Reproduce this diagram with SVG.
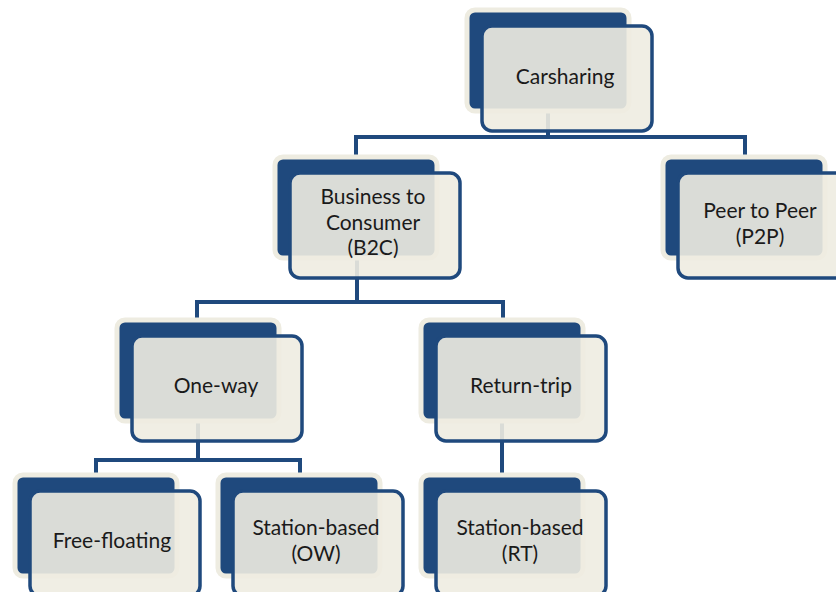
<svg xmlns="http://www.w3.org/2000/svg" width="836" height="592" viewBox="0 0 836 592">
  <style>
    .link { fill: none; stroke: #1f497d; stroke-width: 4; }
    .back { fill: #1f497d; stroke: #eeece1; stroke-width: 5; }
    .front { fill: #eeece1; fill-opacity: 0.9; stroke: #1f497d; stroke-width: 3.5; }
    .label { font-family: Lato, "Noto Sans", sans-serif; font-size: 21px; fill: #1a1a1a; text-anchor: middle; }
  </style>
  <defs>
    <g id="card">
      <rect class="back" x="0" y="0" width="162" height="101" rx="8"/>
      <rect class="front" x="15" y="16" width="170" height="105" rx="10"/>
    </g>
  </defs>

  <g id="connectors">
    <path class="link" d="M548 100 V137 M356 157 V137 H745 V157"/>
    <path class="link" d="M357 250 V302 M197 320 V302 H503 V320"/>
    <path class="link" d="M198 410 V460 M96 475 V460 H300 V475"/>
    <path class="link" d="M502 410 V475"/>
  </g>

  <g id="carsharing">
    <use href="#card" x="467" y="10"/>
    <text class="label" x="565" y="84">Carsharing</text>
  </g>

  <g id="b2c">
    <use href="#card" x="275" y="157"/>
    <text class="label" x="373" y="204">Business to</text>
    <text class="label" x="373" y="230">Consumer</text>
    <text class="label" x="373" y="255">(B2C)</text>
  </g>

  <g id="p2p">
    <use href="#card" x="663" y="157"/>
    <text class="label" x="760" y="218">Peer to Peer</text>
    <text class="label" x="760" y="244">(P2P)</text>
  </g>

  <g id="one-way">
    <use href="#card" x="117" y="320"/>
    <text class="label" x="216" y="393">One-way</text>
  </g>

  <g id="return-trip">
    <use href="#card" x="421" y="320"/>
    <text class="label" x="521" y="393">Return-trip</text>
  </g>

  <g id="free-floating">
    <use href="#card" x="15" y="475"/>
    <text class="label" x="112" y="548">Free-floating</text>
  </g>

  <g id="station-ow">
    <use href="#card" x="218" y="475"/>
    <text class="label" x="316" y="535">Station-based</text>
    <text class="label" x="316" y="561">(OW)</text>
  </g>

  <g id="station-rt">
    <use href="#card" x="421" y="475"/>
    <text class="label" x="520" y="535">Station-based</text>
    <text class="label" x="520" y="561">(RT)</text>
  </g>
</svg>
